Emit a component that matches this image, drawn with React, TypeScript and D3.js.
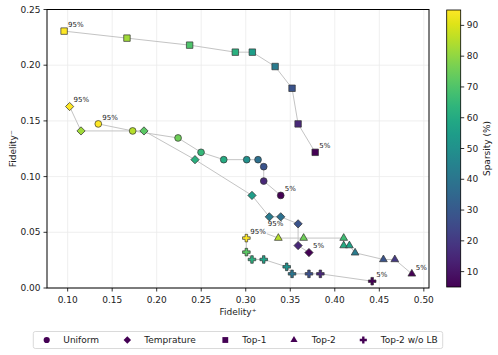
import React from "react";
import * as d3 from "d3";

// ── Data ────────────────────────────────────────────────────────────────────
const uniformX = [0.1344, 0.173, 0.224, 0.2498, 0.2753, 0.3011, 0.3138, 0.3202, 0.3202, 0.3393];
const uniformY = [0.1473, 0.141, 0.1347, 0.1218, 0.1152, 0.1152, 0.1152, 0.1089, 0.096, 0.0831];
const uniformS = [95, 85, 75, 65, 60, 50, 38, 28, 15, 5];

const tempX = [0.1022, 0.115, 0.1857, 0.243, 0.307, 0.3265, 0.3393, 0.3588, 0.3588, 0.371];
const tempY = [0.1629, 0.141, 0.141, 0.1152, 0.0831, 0.0639, 0.0639, 0.0576, 0.0381, 0.0318];
const tempS = [95, 82, 72, 62, 55, 42, 38, 28, 15, 5];

const top1X = [0.096, 0.1666, 0.237, 0.2883, 0.3074, 0.333, 0.352, 0.3588, 0.378];
const top1Y = [0.2306, 0.2243, 0.218, 0.2117, 0.2117, 0.1988, 0.1793, 0.1473, 0.1218];
const top1S = [95, 82, 70, 62, 55, 42, 28, 15, 5];

const top2X = [0.3366, 0.365, 0.41, 0.41, 0.4164, 0.4228, 0.4546, 0.4674, 0.4865];
const top2Y = [0.0448, 0.0448, 0.0448, 0.0381, 0.0381, 0.0316, 0.0256, 0.0256, 0.0127];
const top2S = [85, 75, 67, 60, 57, 42, 28, 20, 5];

const noLbX = [0.3007, 0.3007, 0.307, 0.3202, 0.346, 0.352, 0.371, 0.3838, 0.442];
const noLbY = [0.0448, 0.0322, 0.0256, 0.0256, 0.019, 0.0127, 0.0127, 0.0127, 0.0061];
const noLbS = [95, 72, 62, 57, 50, 40, 27, 15, 5];

const seriesNames = ["Uniform", "Temprature", "Top-1", "Top-2", "Top-2 w/o LB"];
const xTicks = [0.1, 0.15, 0.2, 0.25, 0.3, 0.35, 0.4, 0.45, 0.5];
const yTicks = [0, 0.05, 0.1, 0.15, 0.2, 0.25];
const cbTicks = [10, 20, 30, 40, 50, 60, 70, 80, 90];

// ── Layout ──────────────────────────────────────────────────────────────────
const W = 498;
const H = 355;
const PL = 47, PR = 429, PT = 9.5, PB = 288;
const CB = { x0: 446.7, x1: 460.7, y0: 10, y1: 287 };
const FONT = "DejaVu Sans, sans-serif";

const xScale = d3.scaleLinear().domain([0.0768, 0.5058]).range([PL, PR]);
const yScale = d3.scaleLinear().domain([0, 0.25]).range([PB, PT]);
const cScale = d3.scaleLinear().domain([5, 95]).range([CB.y1, CB.y0]);
const color = (s: number) => d3.interpolateViridis((s - 5) / 90);

const shapes: Record<string, { path: string; rot: number }> = {
  circle: { path: d3.symbol().type(d3.symbolCircle).size(36)()!, rot: 0 },
  diamond: { path: d3.symbol().type(d3.symbolSquare).size(34)()!, rot: 45 },
  square: { path: d3.symbol().type(d3.symbolSquare).size(42)()!, rot: 0 },
  triangle: { path: d3.symbol().type(d3.symbolTriangle).size(26)()!, rot: 0 },
  plus: { path: d3.symbol().type(d3.symbolCross).size(32)()!, rot: 0 },
};
const legendShapes: Record<string, string> = {
  circle: d3.symbol().type(d3.symbolCircle).size(30)()!,
  diamond: d3.symbol().type(d3.symbolSquare).size(28)()!,
  square: d3.symbol().type(d3.symbolSquare).size(34)()!,
  triangle: d3.symbol().type(d3.symbolTriangle).size(22)()!,
  plus: d3.symbol().type(d3.symbolCross).size(28)()!,
};

const series = [
  { name: seriesNames[0], xs: uniformX, ys: uniformY, ss: uniformS, shape: "circle" },
  { name: seriesNames[1], xs: tempX, ys: tempY, ss: tempS, shape: "diamond" },
  { name: seriesNames[2], xs: top1X, ys: top1Y, ss: top1S, shape: "square" },
  { name: seriesNames[3], xs: top2X, ys: top2Y, ss: top2S, shape: "triangle",
    firstOffset: [-10.6, -13.6], leader: [-11.6, -4.4] },
  { name: seriesNames[4], xs: noLbX, ys: noLbY, ss: noLbS, shape: "plus" },
];

// legend item positions (marker x, text x)
const legendPos = [[46.7, 63.3], [127.3, 144.3], [225.3, 242.3], [294, 311.7], [363.3, 380.7]];

const line = d3.line<[number, number]>().x(d => xScale(d[0])).y(d => yScale(d[1]));

export default function App() {
  const gradStops = d3.range(0, 1.0001, 0.05);
  return (
    <svg width={W} height={H} viewBox={`0 0 ${W} ${H}`}
      style={{ position: "absolute", left: 0, top: 0, background: "#fff" }}
      fontFamily={FONT}>
      <defs>
        <linearGradient id="viridis" x1="0" y1="1" x2="0" y2="0">
          {gradStops.map(t => (
            <stop key={t} offset={t} stopColor={d3.interpolateViridis(t)} />
          ))}
        </linearGradient>
        <clipPath id="plot-clip">
          <rect x={PL} y={PT} width={PR - PL} height={PB - PT} />
        </clipPath>
      </defs>

      {/* grid */}
      <g stroke="#ebebeb" strokeWidth={0.8}>
        {xTicks.map(t => (
          <line key={"gx" + t} x1={xScale(t)} x2={xScale(t)} y1={PT} y2={PB} />
        ))}
        {yTicks.map(t => (
          <line key={"gy" + t} x1={PL} x2={PR} y1={yScale(t)} y2={yScale(t)} />
        ))}
      </g>

      {/* connecting lines */}
      <g clipPath="url(#plot-clip)" fill="none" stroke="#c4c4c4" strokeWidth={1}>
        {series.map(s => (
          <path key={"l" + s.name}
            d={line(s.xs.map((x, i) => [x, s.ys[i]] as [number, number]))!} />
        ))}
        {series.filter(s => s.leader).map(s => {
          const px = xScale(s.xs[0]), py = yScale(s.ys[0]);
          return <line key={"ld" + s.name} x1={px} y1={py}
            x2={px + s.leader![0]} y2={py + s.leader![1]} />;
        })}
      </g>

      {/* markers */}
      <g stroke="#333" strokeWidth={0.7}>
        {series.map(s => s.xs.map((x, i) => (
          <path key={s.name + i} d={shapes[s.shape].path} fill={color(s.ss[i])}
            transform={`translate(${xScale(x)},${yScale(s.ys[i])}) rotate(${shapes[s.shape].rot})`} />
        )))}
      </g>

      {/* end labels */}
      <g fontSize={7} fill="#222">
        {series.map(s => {
          const n = s.xs.length - 1;
          const fo = s.firstOffset ?? [4, -6];
          return (
            <g key={"t" + s.name}>
              <text x={xScale(s.xs[0]) + fo[0]} y={yScale(s.ys[0]) + fo[1]}
                dominantBaseline="middle">95%</text>
              <text x={xScale(s.xs[n]) + 4} y={yScale(s.ys[n]) - 6}
                dominantBaseline="middle">5%</text>
            </g>
          );
        })}
      </g>

      {/* frame */}
      <rect x={PL} y={PT} width={PR - PL} height={PB - PT} fill="none" stroke="#000" strokeWidth={1} />

      {/* x axis */}
      <g fontSize={9} fill="#222" textAnchor="middle">
        {xTicks.map(t => (
          <g key={"xt" + t}>
            <line x1={xScale(t)} x2={xScale(t)} y1={PB} y2={PB + 3.5} stroke="#000" strokeWidth={0.8} />
            <text x={xScale(t)} y={PB + 14.5}>{d3.format(".2f")(t)}</text>
          </g>
        ))}
        <text x={(PL + PR) / 2} y={314.5}>Fidelity⁺</text>
      </g>

      {/* y axis */}
      <g fontSize={9} fill="#222" textAnchor="end">
        {yTicks.map(t => (
          <g key={"yt" + t}>
            <line x1={PL - 3.5} x2={PL} y1={yScale(t)} y2={yScale(t)} stroke="#000" strokeWidth={0.8} />
            <text x={PL - 6.5} y={yScale(t)} dominantBaseline="central">{d3.format(".2f")(t)}</text>
          </g>
        ))}
        <text transform={`translate(13,${(PT + PB) / 2}) rotate(-90)`} textAnchor="middle"
          dominantBaseline="central">Fidelity⁻</text>
      </g>

      {/* colorbar */}
      <rect x={CB.x0} y={CB.y0} width={CB.x1 - CB.x0} height={CB.y1 - CB.y0} fill="url(#viridis)" />
      <rect x={CB.x0} y={CB.y0} width={CB.x1 - CB.x0} height={CB.y1 - CB.y0} fill="none"
        stroke="#000" strokeWidth={0.8} />
      <g fontSize={9} fill="#222">
        {cbTicks.map(t => (
          <g key={"ct" + t}>
            <line x1={CB.x1} x2={CB.x1 + 3.5} y1={cScale(t)} y2={cScale(t)} stroke="#000" strokeWidth={0.8} />
            <text x={CB.x1 + 6} y={cScale(t)} dominantBaseline="central">{t}</text>
          </g>
        ))}
        <text transform={`translate(487,${(CB.y0 + CB.y1) / 2}) rotate(-90)`} textAnchor="middle"
          dominantBaseline="central">Sparsity (%)</text>
      </g>

      {/* legend */}
      <rect x={33.3} y={331.5} width={409.4} height={17} rx={2} fill="#fff" stroke="#d0d0d0" strokeWidth={0.8} />
      <g fontSize={9} fill="#222">
        {series.map((s, i) => (
          <g key={"lg" + s.name}>
            <path d={legendShapes[s.shape]} fill="#440154"
              transform={`translate(${legendPos[i][0]},340) rotate(${shapes[s.shape].rot})`} />
            <text x={legendPos[i][1]} y={340} dominantBaseline="central">{s.name}</text>
          </g>
        ))}
      </g>
    </svg>
  );
}
